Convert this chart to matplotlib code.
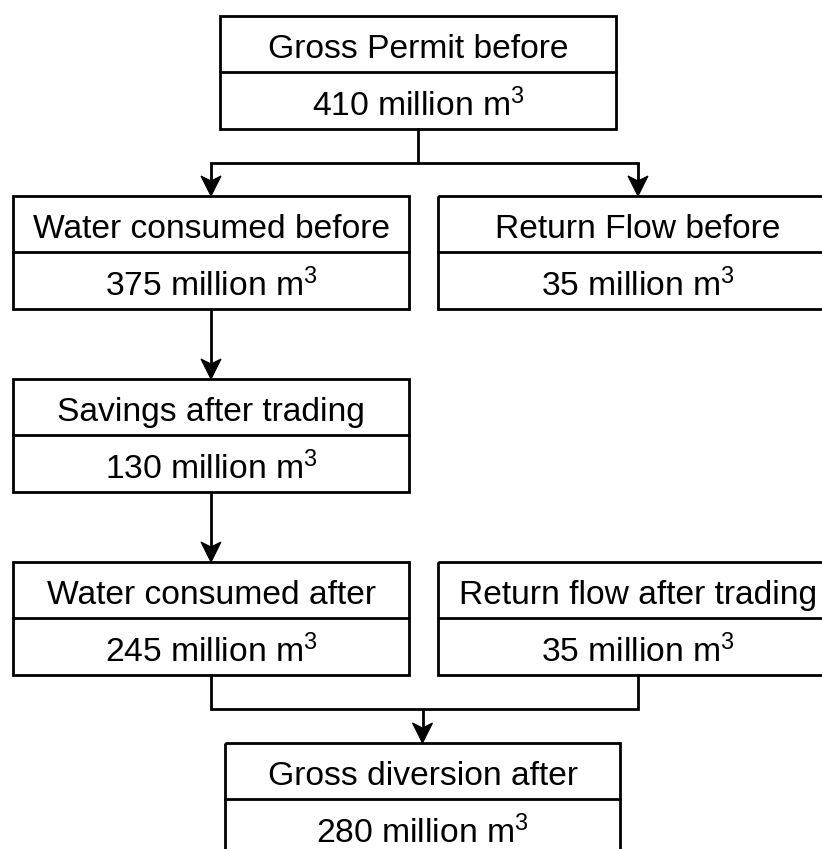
import matplotlib
matplotlib.use("Agg")
import matplotlib.pyplot as plt
from matplotlib.patches import Rectangle, Polygon

plt.rcParams['font.family'] = ['Liberation Sans', 'DejaVu Sans']
plt.rcParams['mathtext.fontset'] = 'custom'
plt.rcParams['mathtext.rm'] = 'Liberation Sans'
plt.rcParams['mathtext.it'] = 'Liberation Sans:italic'
plt.rcParams['mathtext.bf'] = 'Liberation Sans:bold'

# ---- data ----
titles = ["Gross Permit before", "Water consumed before", "Return Flow before",
          "Savings after trading", "Water consumed after", "Return flow after trading",
          "Gross diversion after"]
values = [410, 375, 35, 130, 245, 35, 280]
unit = r"million m$^{3}$"

# ---- layout (pixel coordinates: left, top, width) ----
box_x = [220, 13, 438, 13, 13, 438, 225]
box_y = [16, 196, 196, 379, 562, 562, 743]
box_w = [396, 396, 400, 396, 396, 400, 395]
box_h = 113
half = 56

W, H = 822, 849
fig = plt.figure(figsize=(W / 100, H / 100), dpi=100)
ax = fig.add_axes([0, 0, 1, 1])
ax.set_xlim(0, W)
ax.set_ylim(H, 0)
ax.axis("off")

LW = 2.0
FS = 24.2

for t, v, x, y, w in zip(titles, values, box_x, box_y, box_w):
    ax.add_patch(Rectangle((x, y), w, box_h, fill=False, lw=LW, ec="black",
                           joinstyle="miter"))
    ax.plot([x, x + w], [y + half, y + half], color="black", lw=LW)
    cx = x + w / 2
    ax.text(cx, y + 42, t, ha="center", va="baseline", fontsize=FS, color="black")
    ax.text(cx, y + 100, f"{v} " + unit, ha="center", va="baseline",
            fontsize=FS, color="black")


def centre(i):
    return box_x[i] + box_w[i] / 2


def bottom(i):
    return box_y[i] + box_h


def arrow(x, y0, y1):
    ax.plot([x, x], [y0, y1 - 8], color="black", lw=LW, solid_capstyle="butt")
    head = [(x, y1), (x - 10, y1 - 20), (x, y1 - 15), (x + 10, y1 - 20)]
    ax.add_patch(Polygon(head, closed=True, fc="black", ec="black", lw=0.8,
                         joinstyle="miter"))


def line(xs, ys):
    ax.plot(xs, ys, color="black", lw=LW, solid_capstyle="projecting",
            solid_joinstyle="miter")


# split from box 0 to boxes 1 and 2
ysplit = 163
line([centre(0), centre(0)], [bottom(0), ysplit])
line([centre(1), centre(2)], [ysplit, ysplit])
arrow(centre(1), ysplit, box_y[1])
arrow(centre(2), ysplit, box_y[2])

# chain 1 -> 3 -> 4
arrow(centre(1), bottom(1), box_y[3])
arrow(centre(3), bottom(3), box_y[4])

# merge 4 and 5 into 6
ymerge = 709
line([centre(4), centre(4), centre(5), centre(5)],
     [bottom(4), ymerge, ymerge, bottom(5)])
arrow(centre(6), ymerge, box_y[6])

fig.savefig("out.png", dpi=100, facecolor="white")
